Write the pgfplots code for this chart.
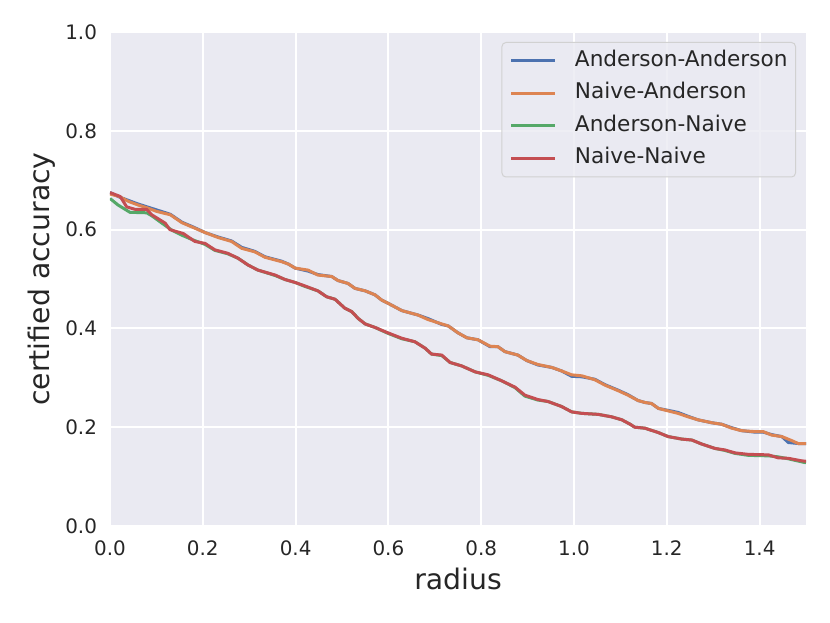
\documentclass[border=0pt]{standalone}
\usepackage{fontspec}
\setmainfont{DejaVu Sans}
\usepackage{pgfplots}
\pgfplotsset{compat=1.18}

\definecolor{sbbg}{HTML}{EAEAF2}
\definecolor{sbtext}{HTML}{262626}
\definecolor{sbblue}{HTML}{4C72B0}
\definecolor{sborange}{HTML}{DD8452}
\definecolor{sbgreen}{HTML}{55A868}
\definecolor{sbred}{HTML}{C44E52}

\begin{document}
\begin{tikzpicture}
\begin{axis}[
    width=348bp, height=247bp, scale only axis,
    xmin=0, xmax=1.5, ymin=0, ymax=1,
    xtick={0,0.2,...,1.4}, ytick={0,0.2,...,1},
    /pgf/number format/fixed,
    /pgf/number format/fixed zerofill,
    /pgf/number format/precision=1,
    /pgf/number format/assume math mode=true,
    axis background/.style={fill=sbbg},
    axis line style={draw=none},
    major tick length=0pt,
    grid=major,
    major grid style={white, line width=1bp},
    tick label style={font=\fontsize{10}{12}\selectfont, text=sbtext},
    xticklabel style={yshift=-4bp},
    yticklabel style={xshift=-3bp},
    label style={font=\fontsize{14.2}{16}\selectfont, text=sbtext},
    xlabel={radius},
    ylabel={certified accuracy},
    xlabel style={yshift=1bp},
    ylabel style={yshift=-2bp},
    legend style={at={(1,1)}, xshift=-5bp, yshift=-5bp, anchor=north east,
        fill=sbbg, fill opacity=0.8, text opacity=1, draw=black!18,
        rounded corners=2bp, line width=0.5bp,
        font=\fontsize{10.85}{12}\selectfont, text=sbtext,
        inner xsep=4bp, inner ysep=4bp, row sep=5.75bp, column sep=9bp,
        nodes={inner sep=0pt, text height=8bp, text depth=2.5bp}},
    legend cell align=left,
    legend image code/.code={\draw[#1] (0bp,0bp) -- (22bp,0bp);},
    every axis plot/.append style={line width=1.5bp, line join=round},
]
\addplot[sbblue] coordinates {
(0,0.675)(0.02,0.666)(0.04,0.659)(0.06,0.652)(0.08,0.646)(0.10,0.640)(0.13,0.631)
(0.155,0.615)(0.18,0.605)(0.205,0.594)(0.233,0.585)(0.262,0.577)(0.284,0.564)
(0.312,0.556)(0.334,0.545)(0.37,0.536)(0.385,0.530)(0.399,0.522)(0.427,0.516)
(0.448,0.509)(0.478,0.505)(0.491,0.497)(0.513,0.491)(0.528,0.481)(0.55,0.476)
(0.571,0.468)(0.586,0.457)(0.599,0.451)(0.629,0.436)(0.664,0.427)(0.685,0.420)
(0.715,0.408)(0.729,0.405)(0.75,0.391)(0.769,0.381)(0.793,0.377)(0.819,0.363)
(0.836,0.363)(0.851,0.353)(0.879,0.346)(0.898,0.335)(0.922,0.326)(0.952,0.321)
(0.973,0.314)(0.995,0.303)(1.017,0.302)(1.045,0.297)(1.067,0.286)(1.095,0.275)
(1.116,0.266)(1.138,0.254)(1.153,0.250)(1.167,0.248)(1.182,0.238)(1.203,0.234)
(1.224,0.230)(1.246,0.222)(1.267,0.215)(1.297,0.209)(1.318,0.206)(1.34,0.199)
(1.361,0.193)(1.39,0.190)(1.408,0.190)(1.426,0.185)(1.448,0.181)(1.462,0.169)
(1.483,0.167)(1.5,0.167)
};
\addlegendentry{Anderson-Anderson}
\addplot[sborange] coordinates {
(0,0.672)(0.02,0.667)(0.04,0.657)(0.06,0.650)(0.08,0.644)(0.10,0.637)(0.13,0.630)
(0.155,0.614)(0.18,0.604)(0.205,0.594)(0.233,0.584)(0.262,0.576)(0.284,0.562)
(0.312,0.555)(0.334,0.544)(0.37,0.535)(0.385,0.530)(0.399,0.522)(0.427,0.518)
(0.448,0.508)(0.478,0.505)(0.491,0.497)(0.513,0.491)(0.528,0.481)(0.55,0.476)
(0.571,0.468)(0.586,0.457)(0.599,0.451)(0.629,0.436)(0.664,0.427)(0.685,0.418)
(0.715,0.409)(0.729,0.405)(0.75,0.391)(0.769,0.381)(0.793,0.377)(0.819,0.364)
(0.836,0.363)(0.851,0.353)(0.879,0.346)(0.898,0.335)(0.922,0.327)(0.952,0.321)
(0.973,0.314)(0.995,0.306)(1.017,0.304)(1.045,0.296)(1.067,0.285)(1.095,0.274)
(1.116,0.265)(1.138,0.254)(1.153,0.250)(1.167,0.248)(1.182,0.238)(1.203,0.233)
(1.224,0.228)(1.246,0.221)(1.267,0.215)(1.297,0.209)(1.318,0.206)(1.34,0.198)
(1.361,0.193)(1.39,0.191)(1.408,0.191)(1.426,0.184)(1.448,0.181)(1.469,0.173)
(1.483,0.167)(1.5,0.167)
};
\addlegendentry{Naive-Anderson}
\addplot[sbgreen] coordinates {
(0,0.663)(0.017,0.650)(0.043,0.635)(0.079,0.634)(0.09,0.628)(0.112,0.613)(0.133,0.599)
(0.154,0.589)(0.179,0.579)(0.205,0.570)(0.226,0.558)(0.254,0.551)(0.276,0.542)
(0.298,0.528)(0.319,0.518)(0.356,0.507)(0.377,0.499)(0.399,0.493)(0.420,0.485)
(0.448,0.476)(0.467,0.464)(0.485,0.459)(0.506,0.441)(0.521,0.434)(0.535,0.420)
(0.55,0.409)(0.571,0.402)(0.599,0.390)(0.629,0.379)(0.657,0.373)(0.679,0.360)
(0.693,0.348)(0.715,0.345)(0.733,0.331)(0.758,0.324)(0.787,0.312)(0.815,0.305)
(0.844,0.294)(0.873,0.280)(0.894,0.263)(0.922,0.255)(0.944,0.252)(0.973,0.242)
(0.995,0.231)(1.017,0.228)(1.052,0.226)(1.081,0.221)(1.103,0.215)(1.121,0.206)
(1.131,0.200)(1.153,0.198)(1.182,0.189)(1.203,0.181)(1.232,0.176)(1.254,0.174)
(1.275,0.166)(1.304,0.157)(1.325,0.153)(1.347,0.147)(1.376,0.143)(1.419,0.142)
(1.44,0.140)(1.462,0.136)(1.49,0.130)(1.5,0.128)
};
\addlegendentry{Anderson-Naive}
\addplot[sbred] coordinates {
(0,0.675)(0.022,0.667)(0.036,0.646)(0.054,0.641)(0.079,0.641)(0.09,0.630)(0.119,0.613)
(0.129,0.600)(0.158,0.592)(0.183,0.576)(0.205,0.572)(0.226,0.559)(0.254,0.552)
(0.276,0.542)(0.298,0.528)(0.319,0.518)(0.356,0.508)(0.377,0.499)(0.399,0.493)
(0.420,0.486)(0.448,0.476)(0.467,0.464)(0.485,0.459)(0.506,0.441)(0.521,0.434)
(0.535,0.420)(0.55,0.409)(0.571,0.402)(0.599,0.391)(0.629,0.380)(0.657,0.373)
(0.679,0.360)(0.693,0.348)(0.715,0.346)(0.733,0.331)(0.758,0.324)(0.787,0.312)
(0.815,0.306)(0.844,0.294)(0.873,0.281)(0.894,0.265)(0.922,0.256)(0.944,0.252)
(0.973,0.242)(0.995,0.231)(1.017,0.228)(1.052,0.226)(1.081,0.221)(1.103,0.215)
(1.121,0.206)(1.131,0.200)(1.153,0.198)(1.182,0.189)(1.203,0.181)(1.232,0.176)
(1.254,0.174)(1.275,0.166)(1.304,0.157)(1.325,0.154)(1.347,0.148)(1.376,0.145)
(1.419,0.144)(1.44,0.138)(1.462,0.137)(1.49,0.132)(1.5,0.131)
};
\addlegendentry{Naive-Naive}
\end{axis}
\pgfresetboundingbox
\path[use as bounding box] (current axis.south west) ++(-55bp,-48.5bp)
    rectangle ([xshift=12bp,yshift=16bp]current axis.north east);
\end{tikzpicture}
\end{document}
